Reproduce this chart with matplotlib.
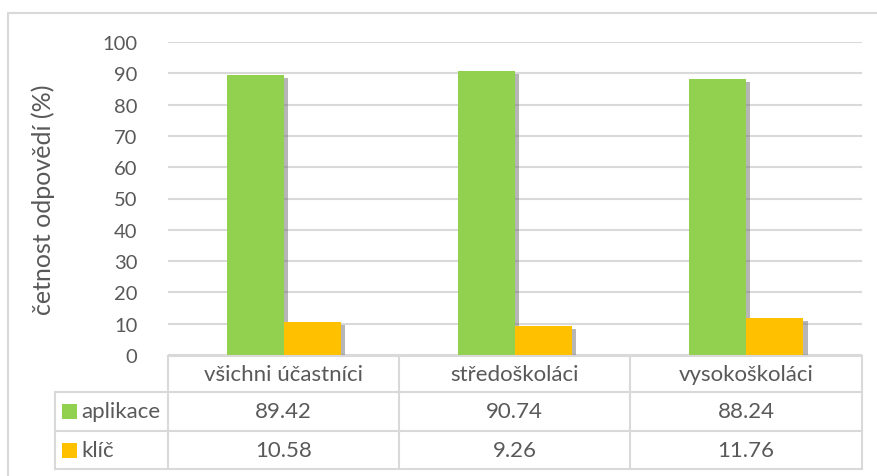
import numpy as np
import matplotlib
matplotlib.use("Agg")
import matplotlib.pyplot as plt
import matplotlib.patheffects as pe
from matplotlib.lines import Line2D
from matplotlib.patches import Rectangle

categories = ["všichni účastníci", "středoškoláci", "vysokoškoláci"]
series_names = ["aplikace", "klíč"]
aplikace = [89.42, 90.74, 88.24]
klic = [10.58, 9.26, 11.76]
yticks = [0, 10, 20, 30, 40, 50, 60, 70, 80, 90, 100]

colors = ["#92D050", "#FFC000"]
text_col = "#595959"
line_col = "#D9D9D9"

W, H = 877, 477
plt.rcParams['font.family'] = ['Lato', 'DejaVu Sans']


def px(x, y):  # pixel -> figure fraction
    return x / W, 1 - y / H


fig = plt.figure(figsize=(W / 100, H / 100), dpi=100)

# plot area
l, t = px(168, 43)
r, b = px(862, 356)
ax = fig.add_axes([l, b, r - l, t - b])

x = np.arange(len(categories))
bw = 0.247
shadow = [pe.SimplePatchShadow(offset=(3, -2), shadow_rgbFace="#6f6f6f", alpha=0.5), pe.Normal()]
for i, (vals, c) in enumerate(zip([aplikace, klic], colors)):
    bars = ax.bar(x + (i - 0.5) * bw, vals, bw, color=c, zorder=3 + i)
    for p in bars:
        p.set_path_effects(shadow)

ax.set_xlim(-0.5, len(categories) - 0.5)
ax.set_ylim(0, 100)
ax.set_yticks(yticks)
ax.set_xticks([])
ax.yaxis.grid(True, color=line_col, linewidth=1.5)
ax.set_axisbelow(True)
for s in ax.spines.values():
    s.set_visible(False)
ax.tick_params(axis='y', length=0, pad=22, labelsize=14.5, labelcolor=text_col)
ax.set_ylabel("četnost odpovědí (%)", fontsize=18, color=text_col)
ax.yaxis.set_label_coords(-0.163, 0.5)

# outer frame
fx0, fy0 = px(8, 14)
fig.add_artist(Rectangle((fx0, -0.01), 1.1, fy0 + 0.01, transform=fig.transFigure,
                         fill=False, edgecolor=line_col, linewidth=1.5))


# data table under the plot
def hline(x0, x1, y):
    a, yy = px(x0, y)
    bb, _ = px(x1, y)
    fig.add_artist(Line2D([a, bb], [yy, yy], transform=fig.transFigure, color=line_col, lw=1.5))


def vline(xx, y0, y1):
    a, ya = px(xx, y0)
    _, yb = px(xx, y1)
    fig.add_artist(Line2D([a, a], [ya, yb], transform=fig.transFigure, color=line_col, lw=1.5))


col_edges = [168, 399, 630, 862]
row_edges = [357, 393, 432, 470]
hline(168, 862, 357)
for y in row_edges[1:]:
    hline(55, 862, y)
vline(55, 393, 470)
for xx in col_edges:
    vline(xx, 357, 470)

rows = [categories, [f"{v:.2f}" for v in aplikace], [f"{v:.2f}" for v in klic]]
for ri, row in enumerate(rows):
    yc = (row_edges[ri] + row_edges[ri + 1]) / 2
    for ci, txt in enumerate(row):
        xc = (col_edges[ci] + col_edges[ci + 1]) / 2
        fig.text(*px(xc, yc), txt, ha="center", va="center", fontsize=16, color=text_col)

# legend keys in first column
for si, (name, c) in enumerate(zip(series_names, colors)):
    yc = (row_edges[si + 1] + row_edges[si + 2]) / 2
    sx, sy = px(62, yc + 7.5)
    fig.add_artist(Rectangle((sx, sy), 15 / W, 15 / H, transform=fig.transFigure,
                             facecolor=c, edgecolor="none"))
    fig.text(*px(81, yc), name, ha="left", va="center", fontsize=16, color=text_col)

fig.savefig("out.png", dpi=100)
